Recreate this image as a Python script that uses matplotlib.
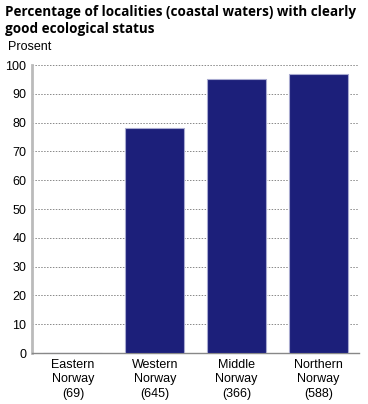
import matplotlib.pyplot as plt
import numpy as np

regions = ['Eastern\nNorway\n(69)', 'Western\nNorway\n(645)', 'Middle\nNorway\n(366)', 'Northern\nNorway\n(588)']
percent = [0, 78, 95, 97]
yticks = list(range(0, 101, 10))

BAR_COLOR = '#1c1f7a'

fig = plt.figure(figsize=(3.68, 4.04), dpi=100)
ax = fig.add_axes([0.087, 0.126, 0.889, 0.713])

x = np.arange(len(regions))
ax.bar(x, percent, width=0.72, color=BAR_COLOR, edgecolor='#a8aad0', linewidth=0.8, zorder=3)

ax.set_xlim(-0.5, 3.5)
ax.set_ylim(0, 100)
ax.set_yticks(yticks)
ax.set_yticklabels([str(v) for v in yticks], fontsize=9, family='Liberation Sans')
ax.set_xticks(x)
ax.set_xticklabels(regions, fontsize=9, family='Liberation Sans', linespacing=1.3)
ax.tick_params(axis='x', length=0, pad=4)
ax.tick_params(axis='y', length=0, pad=4)

ax.yaxis.grid(True, linestyle=(0, (1.5, 1.5)), color='#888888', linewidth=0.7, zorder=0)
for s in ['top', 'right']:
    ax.spines[s].set_visible(False)
ax.spines['left'].set_color('#bbbbbb')
ax.spines['left'].set_linewidth(2)
ax.spines['bottom'].set_color('#888888')
ax.spines['bottom'].set_linewidth(1)

fig.text(0.014, 0.988, 'Percentage of localities (coastal waters) with clearly\ngood ecological status',
         fontsize=9.75, fontweight='bold', family='Open Sans', va='top', ha='left', linespacing=1.25)
fig.text(0.022, 0.868, 'Prosent', fontsize=9, family='Liberation Sans', va='bottom', ha='left')

fig.savefig('out.png', dpi=100)
